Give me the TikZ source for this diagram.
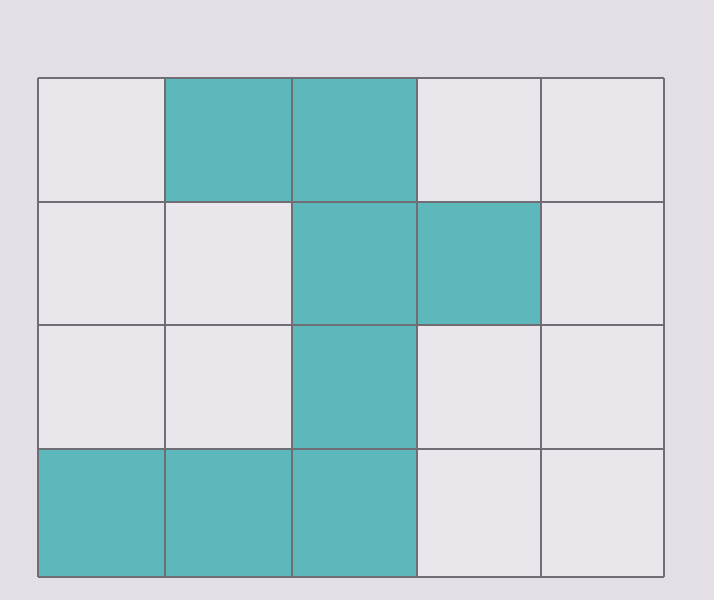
\documentclass[tikz,border=0pt]{standalone}
\usetikzlibrary{positioning}
\definecolor{paper}{HTML}{E4DEE6}
\definecolor{cellbg}{HTML}{EAE6EC}
\definecolor{teal}{HTML}{5DB8BC}
\definecolor{rule}{HTML}{6F6E74}
\tikzset{
  sheet/.style={fill=paper, draw=none},
  blank/.style={fill=cellbg, draw=none},
  shade/.style={fill=teal, draw=none},
  gridline/.style={draw=rule, line width=1.1pt}
}
\begin{document}
\begin{tikzpicture}[x=0.02cm, y=-0.02cm]
	\path[sheet] (0,0) rectangle (714,600);
	\useasboundingbox (0,0) rectangle (714,600);
	% grid area
	\path[blank] (38,78) rectangle (664,577);
	% shaded cells: {x0/y0/x1/y1}
	\foreach \xa/\ya/\xb/\yb in {165/78/292/202, 292/78/417/202,
	                             292/202/417/325, 417/202/541/325,
	                             292/325/417/449,
	                             38/449/165/577, 165/449/292/577, 292/449/417/577}
		\path[shade] (\xa,\ya) rectangle (\xb,\yb);
	% lines
	\foreach \xx in {38,165,292,417,541,664}
		\draw[gridline] (\xx,78) -- (\xx,577);
	\foreach \yy in {78,202,325,449,577}
		\draw[gridline] (38,\yy) -- (664,\yy);
\end{tikzpicture}
\end{document}
